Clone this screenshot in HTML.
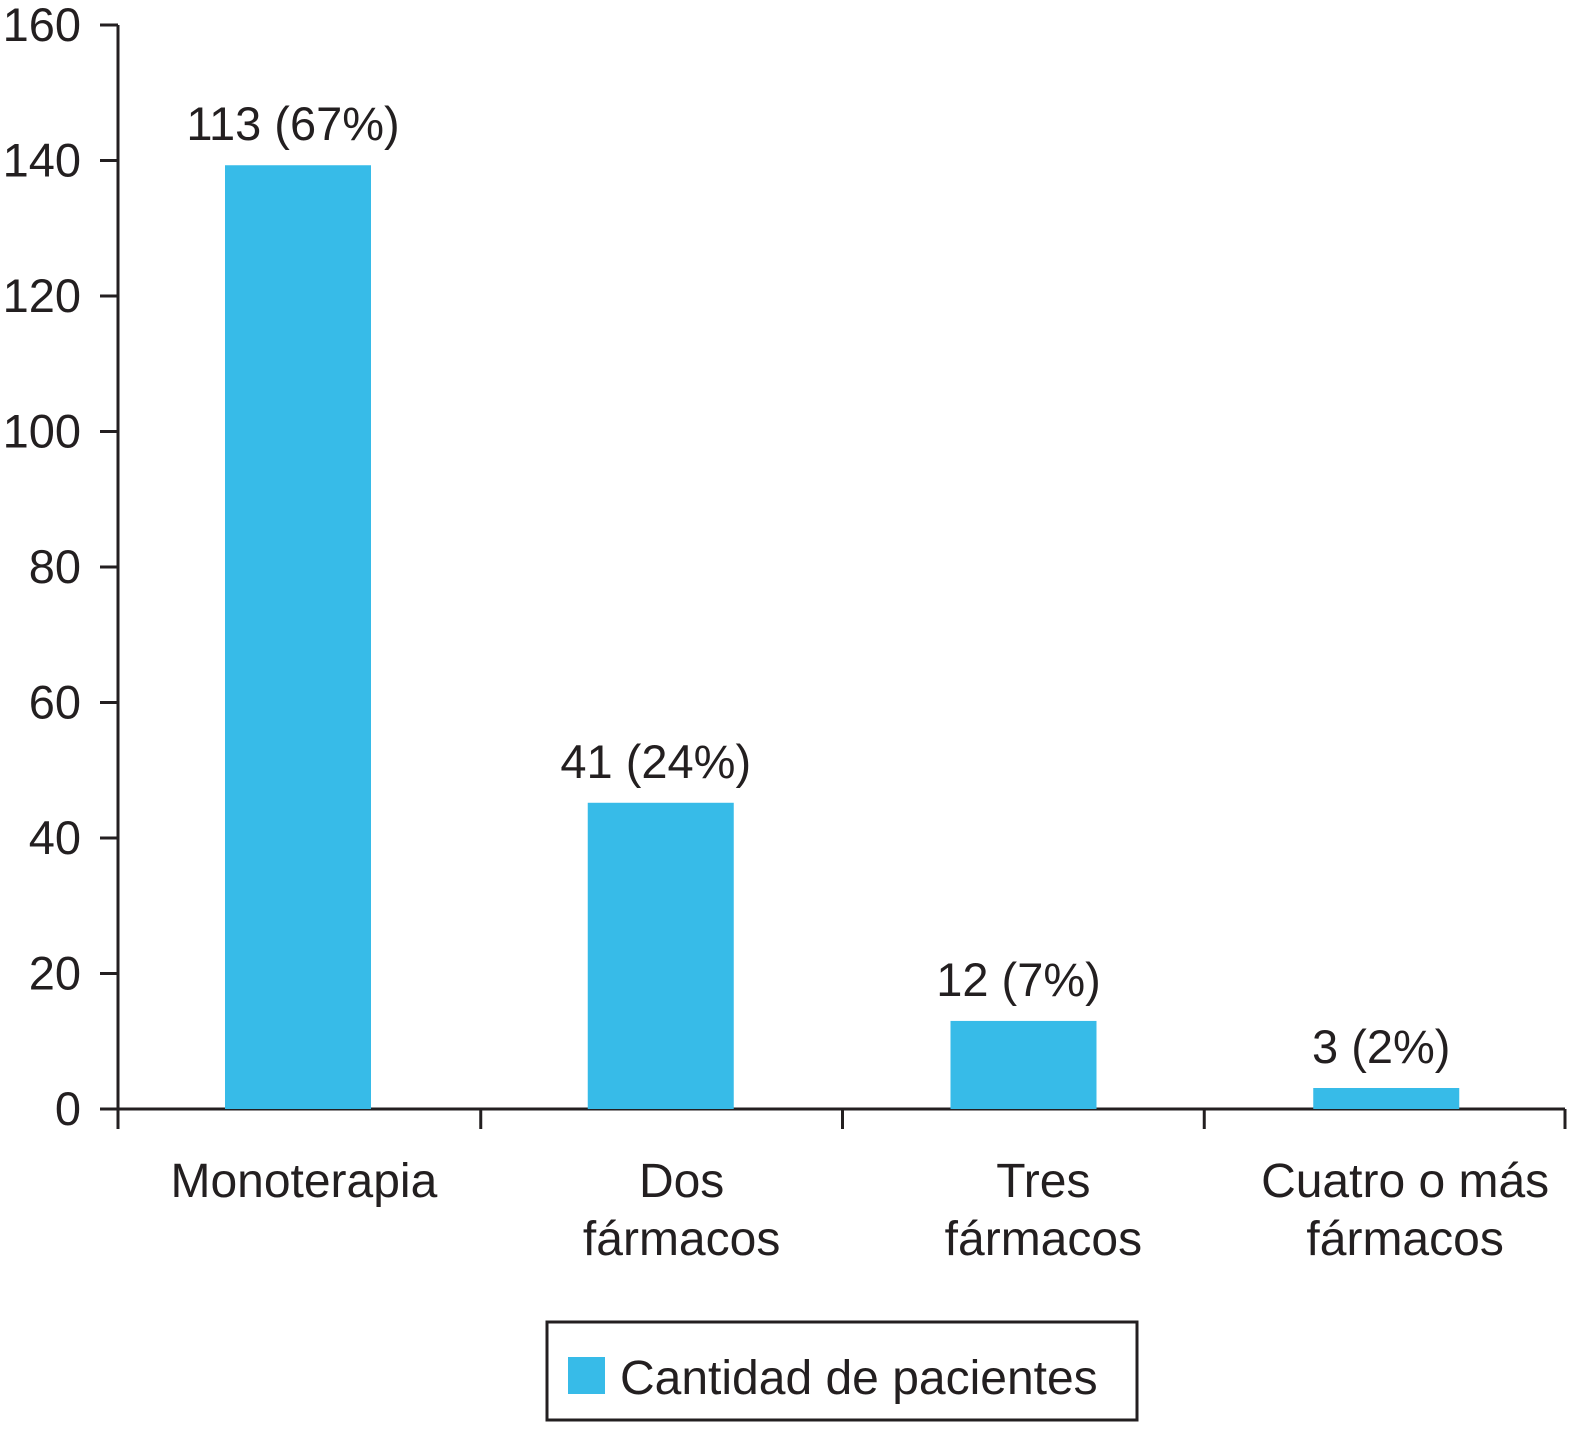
<!DOCTYPE html>
<html><head><meta charset="utf-8"><style>
body{margin:0;background:#fff;}
svg text{font-family:"Liberation Sans",sans-serif;fill:#231f20;}
</style></head><body>
<svg id="chart" width="1570" height="1425" viewBox="0 0 1570 1425"></svg>
<script>
const categories = [["Monoterapia"],["Dos","fármacos"],["Tres","fármacos"],["Cuatro o más","fármacos"]];
const values = [139.3, 45.2, 13, 3.1];
const valueLabels = ["113 (67%)","41 (24%)","12 (7%)","3 (2%)"];
const yTicks = [0,20,40,60,80,100,120,140,160];
const legendLabel = "Cantidad de pacientes";

const svg = document.getElementById('chart');
const NS = 'http://www.w3.org/2000/svg';
const x0 = 118, x1 = 1565, yBase = 1109, yTop = 25, yMax = 160;
const y = v => yBase - v / yMax * (yBase - yTop);
const band = (x1 - x0) / categories.length;
const barW = 146;
function mk(tag, attrs, parent){
  const e = document.createElementNS(NS, tag);
  for (const k in attrs) e.setAttribute(k, attrs[k]);
  (parent || svg).appendChild(e);
  return e;
}
const ya = mk('line',{x1:x0,y1:yTop,x2:x0,y2:yBase,stroke:'#231f20','stroke-width':3});


yTicks.forEach(t=>{
  const l = mk('line',{x1:100,y1:y(t),x2:x0,y2:y(t),stroke:'#231f20','stroke-width':3});
  
  
  const tx = mk('text',{x:81,y:y(t)+16,'text-anchor':'end','font-size':47});
  tx.textContent = t;
  
  
});
const xa = mk('line',{x1:x0,y1:yBase,x2:x1,y2:yBase,stroke:'#231f20','stroke-width':3});


for(let i=0;i<=categories.length;i++){
  const xx = x0 + i*band + (i>0 && i<categories.length ? 1 : 0);
  const l = mk('line',{x1:xx,y1:yBase,x2:xx,y2:1129,stroke:'#231f20','stroke-width':3});
  
  
}
categories.forEach((c,i)=>{
  const bx = x0 + band*i + 107 + i;
  const b = mk('rect',{x:bx,y:y(values[i]),width:barW,height:yBase-y(values[i]),fill:'#37bbe8'});
  
  
  const vl = mk('text',{x:bx+barW/2-5,y:y(values[i])-25,'text-anchor':'middle','font-size':47});
  vl.textContent = valueLabels[i];
  
  
  const cx = x0 + band*(i+0.5) + (i===0 ? 5 : 21);
  c.forEach((line,j)=>{
    const t = mk('text',{x:cx,y:1197+j*58,'text-anchor':'middle','font-size':48});
    t.textContent = line;
    
    
  });
});
const lg = mk('rect',{x:547,y:1322,width:590,height:98,fill:'none',stroke:'#231f20','stroke-width':3});


const sw = mk('rect',{x:568,y:1357,width:37,height:37,fill:'#37bbe8'});


const lt = mk('text',{x:620,y:1394,'font-size':48});
lt.textContent = legendLabel;


</script>
</body></html>
